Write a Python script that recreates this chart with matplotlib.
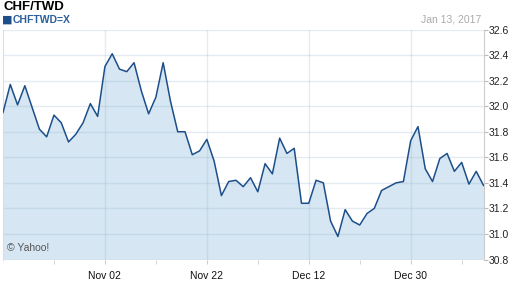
import numpy as np
import pandas as pd
import matplotlib
matplotlib.use("Agg")
import matplotlib.pyplot as plt

plt.rcParams["font.family"] = ["Liberation Sans", "DejaVu Sans"]

# ── Data ───────────────────────────────────────────────────────────────────────
dates = pd.bdate_range("2016-10-13", "2017-01-13")
rates = [31.95, 32.17, 32.01, 32.16, 31.99, 31.82, 31.76, 31.93, 31.87, 31.72,
         31.78, 31.87, 32.02, 31.92, 32.31, 32.41, 32.29, 32.27, 32.34, 32.12,
         31.94, 32.07, 32.34, 32.04, 31.80, 31.80, 31.62, 31.65, 31.74, 31.57,
         31.30, 31.41, 31.42, 31.37, 31.44, 31.33, 31.55, 31.47, 31.75, 31.63,
         31.67, 31.24, 31.24, 31.42, 31.40, 31.10, 30.98, 31.19, 31.10, 31.07,
         31.16, 31.20, 31.34, 31.37, 31.40, 31.41, 31.73, 31.84, 31.51, 31.41,
         31.59, 31.63, 31.49, 31.56, 31.39, 31.49, 31.38]
y_ticks   = [30.8, 31.0, 31.2, 31.4, 31.6, 31.8, 32.0, 32.2, 32.4, 32.6]
x_labels  = ["Nov 02", "Nov 22", "Dec 12", "Dec 30"]

LINE = "#1c4f8a"
FILL = "#d6e6f2"

idx = np.arange(len(dates))
label_pos = [list(dates.strftime("%b %d")).index(l) for l in x_labels]
minor_pos = [p - 7 for p in label_pos] + [label_pos[-1] + 7]

fig = plt.figure(figsize=(5.12, 2.88), dpi=100)
ax = fig.add_axes([3 / 512, 1 - 259.5 / 288, 480.5 / 512, 230 / 288])

ax.fill_between(idx, rates, 30.8, color=FILL, linewidth=0, zorder=1)
ax.plot(idx, rates, color=LINE, linewidth=1.1, zorder=3)

ax.set_xlim(0, idx[-1])
ax.set_ylim(30.8, 32.6)

ax.set_xticks(label_pos)
ax.set_xticklabels(x_labels)
ax.set_xticks(minor_pos, minor=True)
ax.yaxis.tick_right()
ax.set_yticks(y_ticks)
ax.set_yticklabels([f"{v:.1f}" for v in y_ticks])

# grid sits over the fill so it reads darker inside the shaded area
ax.grid(True, which="major", color=(0.6, 0.7, 0.8), alpha=0.25, linewidth=1)
for l in ax.get_xgridlines() + ax.get_ygridlines():
    l.set_zorder(2)

ax.tick_params(axis="x", which="both", length=3, color="#cccccc", labelsize=7.5,
               pad=5, labelcolor="#111111")
ax.tick_params(axis="y", length=3, color="#bbbbbb", labelsize=7.5, pad=1,
               labelcolor="#222222")

for s in ["top", "bottom"]:
    ax.spines[s].set_visible(False)
ax.spines["left"].set_color("#dddddd")
ax.spines["right"].set_color("#cccccc")

# ── Header texts ───────────────────────────────────────────────────────────────
fig.text(3 / 512, 1 - 7 / 288, "CHF/TWD", fontsize=9.5, fontweight="bold",
         color="black", va="center", ha="left")
fig.text(2 / 512, 1 - 20 / 288, "\u25A0", fontsize=8, color=LINE,
         va="center", ha="left", family=["DejaVu Sans"])
fig.text(13 / 512, 1 - 20 / 288, "CHFTWD=X", fontsize=7.5, fontweight="bold",
         color="#2a5f9e", va="center", ha="left")
fig.text(481 / 512, 1 - 20 / 288, "Jan 13, 2017", fontsize=7.5,
         color="#aaaaaa", va="center", ha="right")
ax.text(0.008, 0.05, "\u00A9 Yahoo!", transform=ax.transAxes, fontsize=7.5,
        color="#555555", va="center", ha="left", zorder=4)

fig.savefig("out.png", dpi=100)
